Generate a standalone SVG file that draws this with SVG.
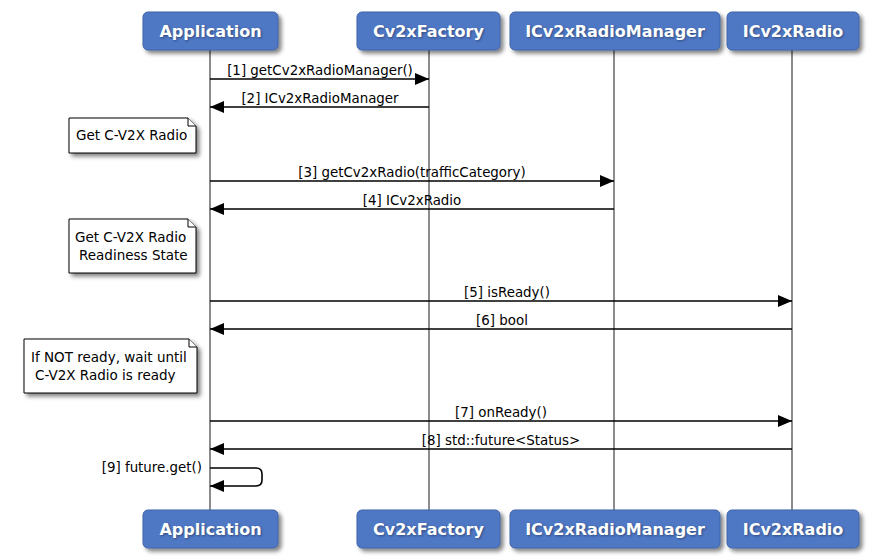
<svg xmlns="http://www.w3.org/2000/svg" width="871" height="558" viewBox="0 0 871 558">
<style>
.pbox{fill:#4F78C4;stroke:#3F63A8;stroke-width:1}
.pname{font-family:"DejaVu Sans",sans-serif;font-weight:bold;font-size:16px;fill:#ffffff;text-anchor:middle}
.pshadow{font-family:"DejaVu Sans",sans-serif;font-weight:bold;font-size:16px;fill:#1a2a50;opacity:0.6;text-anchor:middle}
.life{stroke:#8c8c8c;stroke-width:2;fill:none}
.msg{stroke:#000;stroke-width:1.6;fill:none}
.lbl{font-family:"DejaVu Sans",sans-serif;font-size:13.4px;fill:#000;text-anchor:middle}
.note{fill:#ffffff;stroke:#000;stroke-width:1}
.ntext{font-family:"DejaVu Sans",sans-serif;font-size:13.5px;fill:#000}
</style>
<defs>
<filter id="sh" x="-10%" y="-10%" width="130%" height="140%">
<feGaussianBlur in="SourceAlpha" stdDeviation="2"/>
<feOffset dx="3" dy="3" result="b"/>
<feComponentTransfer><feFuncA type="linear" slope="0.5"/></feComponentTransfer>
<feMerge><feMergeNode/><feMergeNode in="SourceGraphic"/></feMerge>
</filter>
<filter id="tsh" x="-10%" y="-20%" width="130%" height="160%">
<feGaussianBlur stdDeviation="1"/>
</filter>
<marker id="ah" viewBox="0 0 14 12" refX="14" refY="6" markerWidth="14" markerHeight="12" markerUnits="userSpaceOnUse" orient="auto">
<path d="M0,0 L14,6 L0,12 Z" fill="#000"/>
</marker>
</defs>
<rect width="871" height="558" fill="#ffffff"/>
<g id="lifelines">
<line class="life" x1="210" y1="50" x2="210" y2="510"/>
<line class="life" x1="429" y1="50" x2="429" y2="510"/>
<line class="life" x1="614" y1="50" x2="614" y2="510"/>
<line class="life" x1="792" y1="50" x2="792" y2="510"/>
</g>
<g id="p-application-top">
<rect class="pbox" x="143" y="12" width="135" height="38" rx="5" filter="url(#sh)"/>
<text class="pshadow" x="211.5" y="38" filter="url(#tsh)">Application</text>
<text class="pname" x="210.5" y="37">Application</text>
</g>
<g id="p-factory-top">
<rect class="pbox" x="357" y="12" width="143" height="38" rx="5" filter="url(#sh)"/>
<text class="pshadow" x="429.5" y="38" filter="url(#tsh)">Cv2xFactory</text>
<text class="pname" x="428.5" y="37">Cv2xFactory</text>
</g>
<g id="p-manager-top">
<rect class="pbox" x="510" y="12" width="210" height="38" rx="5" filter="url(#sh)"/>
<text class="pshadow" x="616" y="38" filter="url(#tsh)">ICv2xRadioManager</text>
<text class="pname" x="615" y="37">ICv2xRadioManager</text>
</g>
<g id="p-radio-top">
<rect class="pbox" x="727" y="12" width="132" height="38" rx="5" filter="url(#sh)"/>
<text class="pshadow" x="794" y="38" filter="url(#tsh)">ICv2xRadio</text>
<text class="pname" x="793" y="37">ICv2xRadio</text>
</g>
<g id="p-application-bottom">
<rect class="pbox" x="143" y="510" width="135" height="38" rx="5" filter="url(#sh)"/>
<text class="pshadow" x="211.5" y="536" filter="url(#tsh)">Application</text>
<text class="pname" x="210.5" y="535">Application</text>
</g>
<g id="p-factory-bottom">
<rect class="pbox" x="357" y="510" width="143" height="38" rx="5" filter="url(#sh)"/>
<text class="pshadow" x="429.5" y="536" filter="url(#tsh)">Cv2xFactory</text>
<text class="pname" x="428.5" y="535">Cv2xFactory</text>
</g>
<g id="p-manager-bottom">
<rect class="pbox" x="510" y="510" width="210" height="38" rx="5" filter="url(#sh)"/>
<text class="pshadow" x="616" y="536" filter="url(#tsh)">ICv2xRadioManager</text>
<text class="pname" x="615" y="535">ICv2xRadioManager</text>
</g>
<g id="p-radio-bottom">
<rect class="pbox" x="727" y="510" width="132" height="38" rx="5" filter="url(#sh)"/>
<text class="pshadow" x="794" y="536" filter="url(#tsh)">ICv2xRadio</text>
<text class="pname" x="793" y="535">ICv2xRadio</text>
</g>
<g id="note-1">
<path class="note" d="M69,118 H188 L196,126 V153 H69 Z" filter="url(#sh)"/>
<path class="note" d="M188,118 V126 H196" fill="none"/>
<text class="ntext" x="76" y="140">Get C-V2X Radio</text>
</g>
<g id="note-2">
<path class="note" d="M69,219 H188 L196,227 V273 H69 Z" filter="url(#sh)"/>
<path class="note" d="M188,219 V227 H196" fill="none"/>
<text class="ntext" x="75" y="242">Get C-V2X Radio</text>
<text class="ntext" x="79" y="260">Readiness State</text>
</g>
<g id="note-3">
<path class="note" d="M24,339 H189 L197,347 V393 H24 Z" filter="url(#sh)"/>
<path class="note" d="M189,339 V347 H197" fill="none"/>
<text class="ntext" x="31" y="362">If NOT ready, wait until</text>
<text class="ntext" x="35" y="380">C-V2X Radio is ready</text>
</g>
<g id="connectors">
<line class="msg" x1="210" y1="79" x2="429" y2="79" marker-end="url(#ah)"/>
<text class="lbl" x="320" y="75">[1] getCv2xRadioManager()</text>
<line class="msg" x1="429" y1="107" x2="210" y2="107" marker-end="url(#ah)"/>
<text class="lbl" x="320" y="103">[2] ICv2xRadioManager</text>
<line class="msg" x1="210" y1="181" x2="614" y2="181" marker-end="url(#ah)"/>
<text class="lbl" x="412" y="177">[3] getCv2xRadio(trafficCategory)</text>
<line class="msg" x1="614" y1="209" x2="210" y2="209" marker-end="url(#ah)"/>
<text class="lbl" x="412" y="205">[4] ICv2xRadio</text>
<line class="msg" x1="210" y1="301" x2="792" y2="301" marker-end="url(#ah)"/>
<text class="lbl" x="507" y="297">[5] isReady()</text>
<line class="msg" x1="792" y1="329" x2="210" y2="329" marker-end="url(#ah)"/>
<text class="lbl" x="502" y="325">[6] bool</text>
<line class="msg" x1="210" y1="421" x2="792" y2="421" marker-end="url(#ah)"/>
<text class="lbl" x="501" y="417">[7] onReady()</text>
<line class="msg" x1="792" y1="449" x2="210" y2="449" marker-end="url(#ah)"/>
<text class="lbl" x="501" y="445">[8] std::future&lt;Status&gt;</text>
<path class="msg" d="M210,468 H256 Q262,468 262,474 V480 Q262,486 256,486 H210" marker-end="url(#ah)"/>
<text class="lbl" x="202" y="472" style="text-anchor:end">[9] future.get()</text>
</g>
</svg>
